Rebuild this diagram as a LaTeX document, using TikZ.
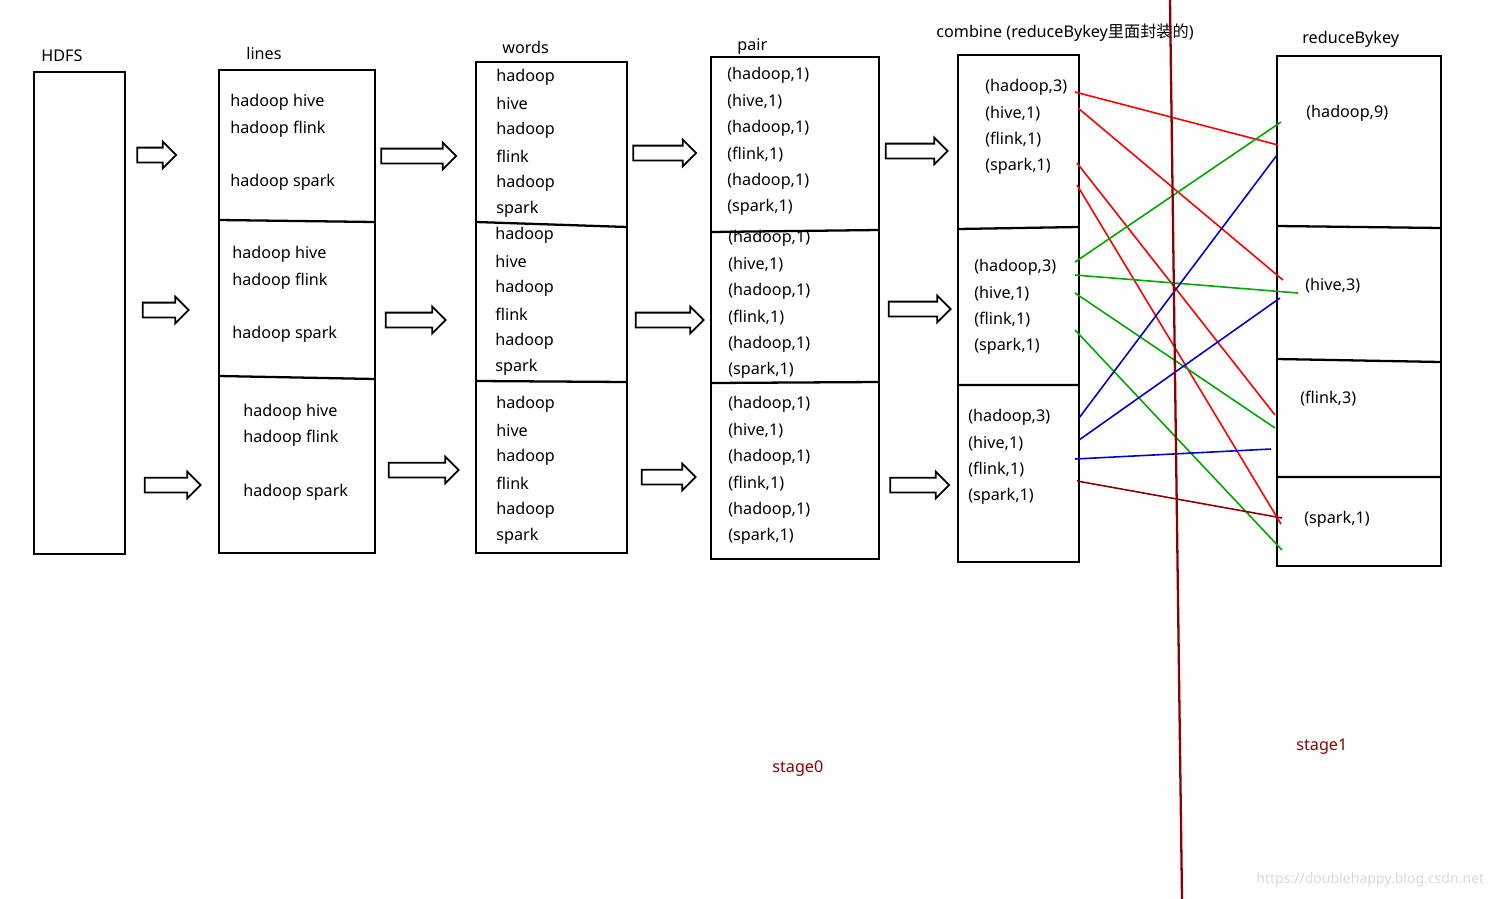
\documentclass[tikz,border=0pt]{standalone}
\usepackage{fontspec}
\setmainfont{Noto Sans}
\newfontfamily\cjk{Noto Sans CJK SC}
\usetikzlibrary{shapes.arrows}
\begin{document}
\begin{tikzpicture}[x=0.02cm,y=-0.02cm,
  box/.style={draw,line width=1.3pt},
  t/.style={anchor=west,inner sep=0pt,font=\fontsize{9.2}{11}\selectfont},
  harr/.style={single arrow,draw,line width=1pt,inner xsep=0pt,inner ysep=0.13cm,single arrow head extend=0.12cm,minimum height=#1},
  cl/.style={line width=0.9pt}]
\useasboundingbox (0,0) rectangle (1504,899);
% boxes
\draw[box] (34,72) rectangle (125,554);
\draw[box] (219,70) rectangle (375,553);
\draw[box] (219,220)--(375,222) (219,376)--(375,379);
\draw[box] (476,62) rectangle (627,553);
\draw[box] (476,222)--(627,227) (476,381)--(627,382);
\draw[box] (711,57) rectangle (879,559);
\draw[box] (711,232)--(879,230) (711,383)--(879,382);
\draw[box] (958,55) rectangle (1079,562);
\draw[box] (958,229)--(1079,227) (958,385)--(1079,385);
\draw[box] (1277,56) rectangle (1441,566);
\draw[box] (1277,226)--(1441,228) (1277,359)--(1441,362) (1277,477)--(1441,477);
% titles
\node[t] (tH) at (41,56) {HDFS};
\node[t] (tL) at (246,53) {lines};
\node[t] (tW) at (502,47) {words};
\node[t] (tP) at (737,46) {pair};
\node[t] (tC) at (936,33) {combine (reduceBykey{\cjk 里面封装的})};
\node[t] (tR) at (1302,39) {reduceBykey};
% lines texts
\foreach \x/\a/\b/\c [count=\i] in {230/102/129/182,232/254/281/334,243/412/438/492}{
  \node[t] (l\i a) at (\x,\a) {hadoop hive};
  \node[t] (l\i b) at (\x,\b) {hadoop flink};
  \node[t] (l\i c) at (\x,\c) {hadoop spark};}
% words
\foreach \x/\y [count=\i] in {496/77,495/235,496/404}{
  \node[t] (w\i a) at (\x,\y) {hadoop};
  \node[t] (w\i b) at (\x,\y+26.5) {hive};
  \node[t] (w\i c) at (\x,\y+53) {hadoop};
  \node[t] (w\i d) at (\x,\y+79.5) {flink};
  \node[t] (w\i e) at (\x,\y+106) {hadoop};
  \node[t] (w\i f) at (\x,\y+132.5) {spark};}
% pair
\foreach \x/\y [count=\i] in {727/75,728/238,728/404}{
  \node[t] (p\i a) at (\x,\y) {(hadoop,1)};
  \node[t] (p\i b) at (\x,\y+26.5) {(hive,1)};
  \node[t] (p\i c) at (\x,\y+53) {(hadoop,1)};
  \node[t] (p\i d) at (\x,\y+79.5) {(flink,1)};
  \node[t] (p\i e) at (\x,\y+106) {(hadoop,1)};
  \node[t] (p\i f) at (\x,\y+132.5) {(spark,1)};}
% combine
\foreach \x/\y [count=\i] in {985/87,974/267,968/417}{
  \node[t] (c\i a) at (\x,\y) {(hadoop,3)};
  \node[t] (c\i b) at (\x,\y+26.5) {(hive,1)};
  \node[t] (c\i c) at (\x,\y+53) {(flink,1)};
  \node[t] (c\i d) at (\x,\y+79.5) {(spark,1)};}
% reduce
\node[t] (r1) at (1306,113) {(hadoop,9)};
\node[t] (r2) at (1305,286) {(hive,3)};
\node[t] (r3) at (1300,399) {(flink,3)};
\node[t] (r4) at (1304,519) {(spark,1)};
% hollow arrows
\foreach \n/\x/\y/\l in {a1/153/155/0.78cm,a2/162/310/0.92cm,a3/169/485/1.12cm,
  b1/415/156/1.5cm,b2/412/320/1.2cm,b3/420/470/1.4cm,
  d1/661/153/1.26cm,d2/666/320/1.36cm,d3/665/477/1.08cm,
  e1/913/151/1.24cm,e2/916/309/1.24cm,e3/916/485/1.18cm}{
  \node[harr=\l] (\n) at (\x,\y) {};}
% coloured links
\draw[cl,red] (1075,92)--(1278,145);
\draw[cl,red] (1078,108)--(1283,280);
\draw[cl,red] (1077,163)--(1275,415);
\draw[cl,red] (1077,185)--(1281,524);
\draw[cl,green!65!black] (1075,262)--(1281,122);
\draw[cl,green!65!black] (1075,275)--(1298,293);
\draw[cl,green!65!black] (1075,293)--(1275,428);
\draw[cl,green!65!black] (1075,330)--(1282,550);
\draw[cl,blue!80!black] (1079,418)--(1277,155);
\draw[cl,blue!80!black] (1079,440)--(1280,298);
\draw[cl,blue!80!black] (1075,459)--(1271,449);
\draw[cl,red!55!black] (1077,481)--(1282,518);
% stage divider
\draw[line width=1.3pt,red!55!black] (1170,0)--(1182,899);
\node[t,text=red!55!black] (st0) at (772,769) {stage0};
\node[t,text=red!55!black] (st1) at (1296,747) {stage1};
\node[t,text=black!15,font=\fontsize{8}{9}\selectfont] (wm) at (1256,880) {https://doublehappy.blog.csdn.net};
\end{tikzpicture}
\end{document}
